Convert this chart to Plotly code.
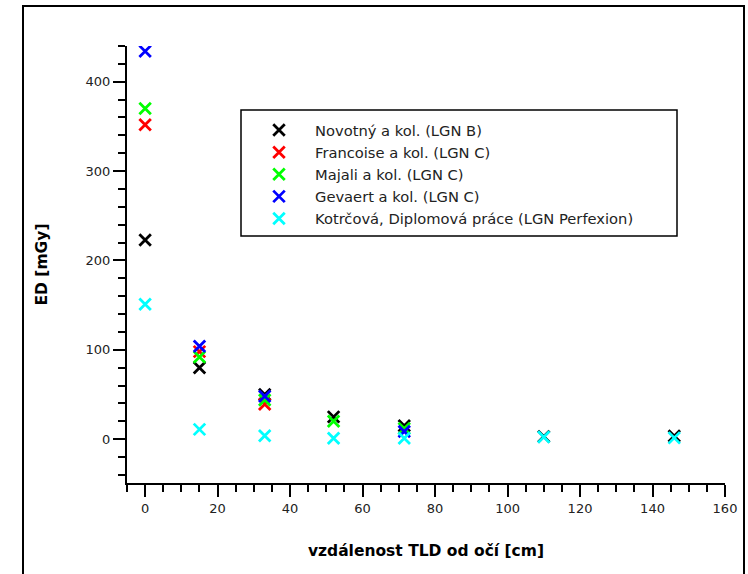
import plotly.graph_objects as go

# ---- data ----
series_names = [
    "Novotný a kol. (LGN B)",
    "Francoise a kol. (LGN C)",
    "Majali a kol. (LGN C)",
    "Gevaert a kol. (LGN C)",
    "Kotrčová, Diplomová práce (LGN Perfexion)",
]
novotny_x = [0, 15, 33, 52, 71.5, 110, 146]
novotny_y = [223, 80, 50, 25, 15, 3, 3.5]
francoise_x = [0, 15, 33]
francoise_y = [352, 98, 39]
majali_x = [0, 15, 33, 52, 71.5]
majali_y = [370, 92, 44, 20, 12]
gevaert_x = [0, 15, 33, 71.5]
gevaert_y = [434, 104, 48, 8.5]
kotrcova_x = [0, 15, 33, 52, 71.5, 110, 146]
kotrcova_y = [151, 11, 4, 1, 1, 2.5, 1.5]

xs = [novotny_x, francoise_x, majali_x, gevaert_x, kotrcova_x]
ys = [novotny_y, francoise_y, majali_y, gevaert_y, kotrcova_y]
colors = ["#000000", "#ff0000", "#00ff00", "#0000ff", "#00ffff"]

x_title = "vzdálenost TLD od očí [cm]"
y_title = "ED [mGy]"

# ---- layout geometry (pixels) ----
W, H = 748, 574
L, T = 127, 46
R = W - 725
B = H - 483
pw, ph = W - L - R, H - T - B

def px_x(p):  # page pixel -> paper
    return (p - L) / pw

def px_y(p):
    return (H - B - p) / ph

fig = go.Figure()
for name, x, y, c in zip(series_names, xs, ys, colors):
    fig.add_trace(go.Scatter(
        x=x, y=y, mode="markers", name=name,
        marker=dict(symbol="x-thin", size=11.5, color=c,
                    line=dict(color=c, width=2.8)),
    ))

tickfont = dict(family="DejaVu Sans", size=13, color="#222222")
titlefont = dict(family="DejaVu Sans", size=15.5, color="#000000", weight="bold")

fig.update_layout(
    width=W, height=H,
    margin=dict(l=L, r=R, t=T, b=B),
    paper_bgcolor="white", plot_bgcolor="white",
    showlegend=True,
    legend=dict(
        x=px_x(243), y=px_y(114), xanchor="left", yanchor="top",
        bgcolor="rgba(0,0,0,0)", borderwidth=0,
        font=dict(family="DejaVu Sans", size=14.7, color="#222222"),
        itemwidth=62,
    ),
    xaxis=dict(
        range=[-5, 160], tickmode="linear", tick0=0, dtick=20,
        showgrid=False, zeroline=False, showline=True, linecolor="black",
        linewidth=2, ticks="outside", ticklen=12, tickwidth=2,
        tickcolor="black", tickfont=tickfont,
        minor=dict(dtick=5, tick0=0, ticks="outside", ticklen=7,
                   tickwidth=1.5, tickcolor="black", showgrid=False),
        title=dict(text=x_title, font=titlefont, standoff=31),
    ),
    yaxis=dict(
        range=[-49, 440], tickmode="linear", tick0=0, dtick=100,
        showgrid=False, zeroline=False, showline=True, linecolor="black",
        linewidth=2, ticks="outside", ticklen=12, tickwidth=2,
        tickcolor="black", tickfont=tickfont,
        minor=dict(dtick=20, tick0=0, ticks="outside", ticklen=7,
                   tickwidth=1.5, tickcolor="black", showgrid=False),
        title=dict(text=y_title, font=titlefont, standoff=34),
    ),
    shapes=[
        # legend box
        dict(type="rect", xref="paper", yref="paper",
             x0=px_x(241), x1=px_x(677), y0=px_y(236), y1=px_y(110),
             line=dict(color="black", width=1.5), fillcolor="rgba(0,0,0,0)"),
        # outer frame
        dict(type="rect", xref="paper", yref="paper",
             x0=px_x(23), x1=px_x(744), y0=px_y(590), y1=px_y(6),
             line=dict(color="black", width=2), fillcolor="rgba(0,0,0,0)"),
    ],
)

fig.write_html(
    "out.html",
    config={"displayModeBar": False},
    post_script="document.body.style.margin='0';document.body.style.overflow='hidden';",
)
